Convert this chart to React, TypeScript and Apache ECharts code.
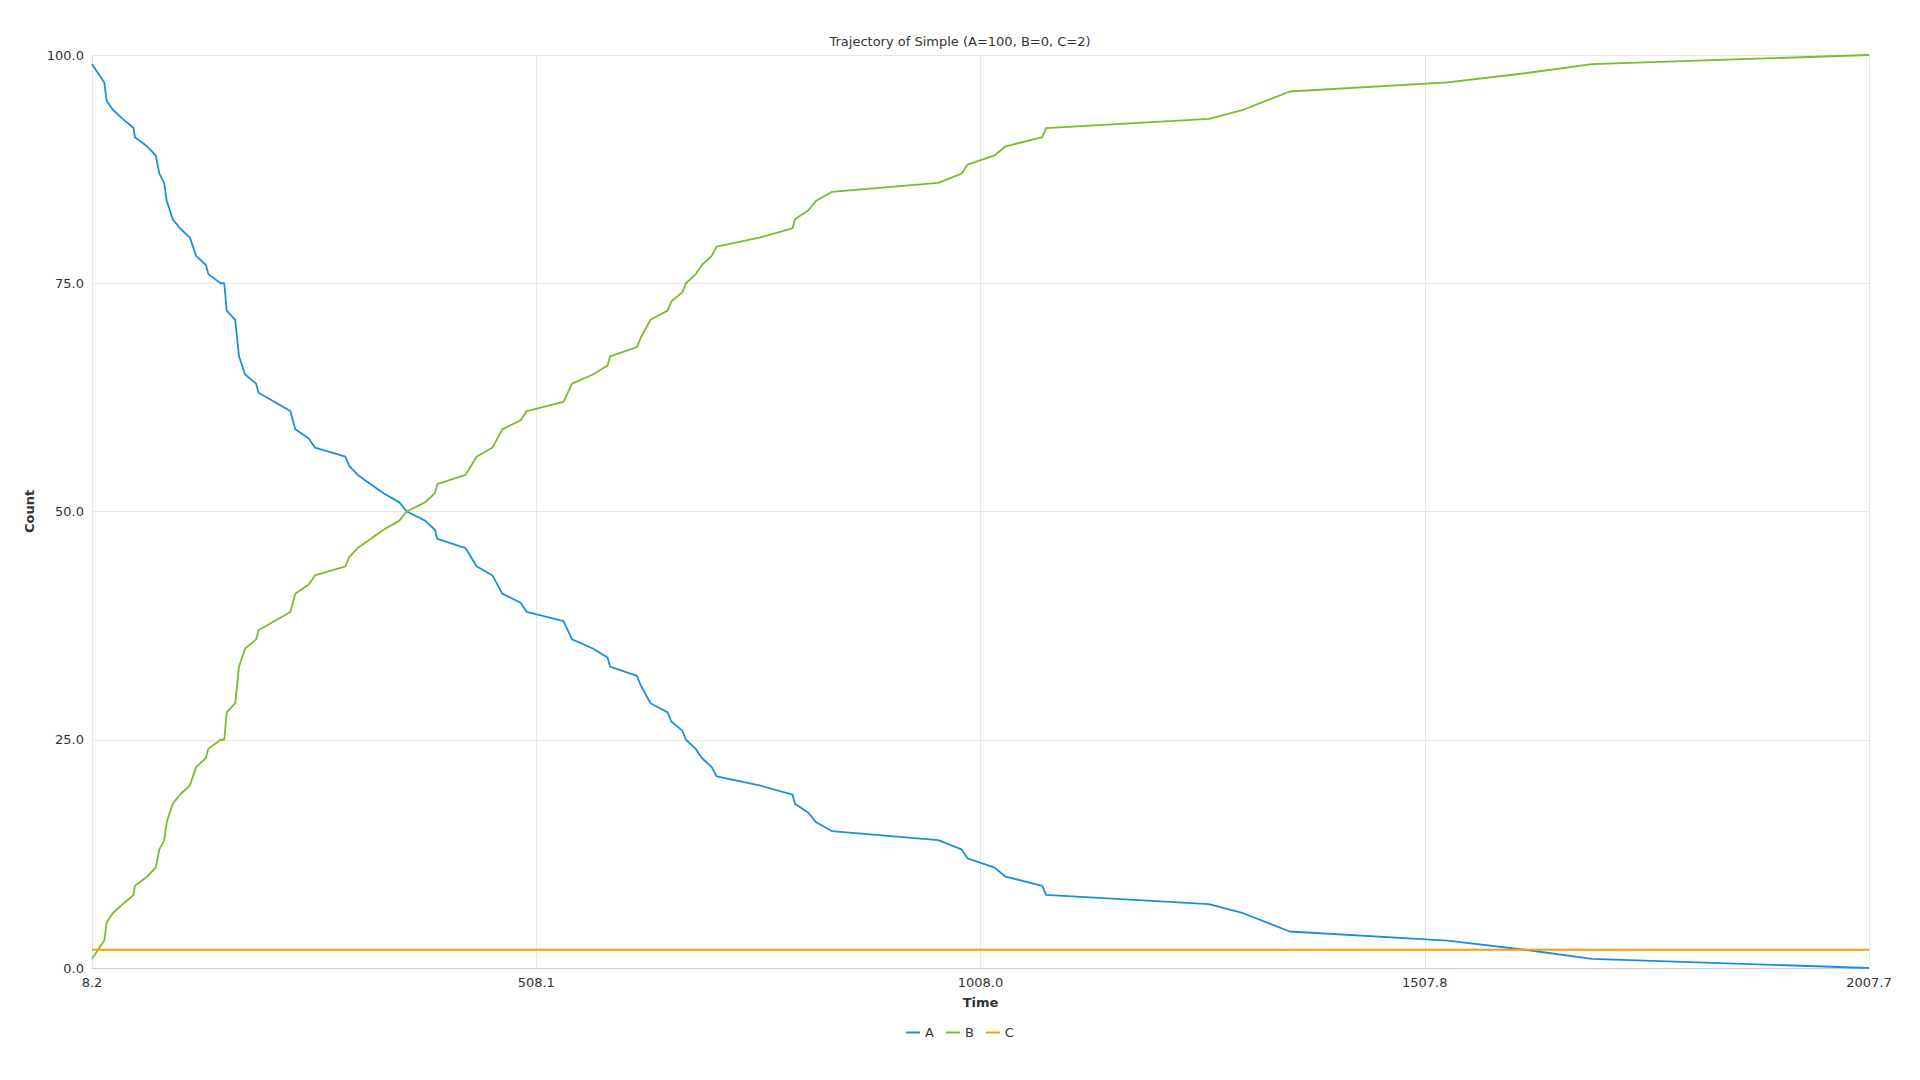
import { useEffect, useRef } from 'react'
import * as echarts from 'echarts'

const TIMES = [
  8.2, 15.1, 22, 24.7, 31.6, 42.7, 55, 56.4, 70.2, 79.9, 84, 89.5, 92.3, 99.2, 107.4, 118.4,
  125.3, 136.4, 139.1, 152.9, 157, 159.8, 169.4, 173.6, 180.5, 192.9, 195.6, 231.4, 236.9,
  252.1, 259, 293.4, 297.6, 307.2, 336.2, 354.1, 362.3, 383, 394, 396.8, 428.5, 440.9, 458.8,
  469.8, 490.5, 497.4, 538.7, 548.4, 571.8, 588.3, 591.1, 621.4, 625.5, 636.6, 655.9, 660,
  672.4, 676.5, 687.6, 694.4, 705.5, 711, 759.2, 796.4, 799.2, 814.3, 822.6, 840.5, 960.4,
  986.6, 993.5, 1023.8, 1036.2, 1077.5, 1081.7, 1265, 1303.5, 1355.9, 1533.6, 1620.5, 1696.2,
  2007.7,
]

const A_VALUES = [
  99, 98, 97, 95, 94, 93, 92, 91, 90, 89, 87, 86, 84, 82, 81, 80, 78, 77, 76, 75, 75, 72, 71,
  67, 65, 64, 63, 61, 59, 58, 57, 56, 55, 54, 52, 51, 50, 49, 48, 47, 46, 44, 43, 41, 40, 39,
  38, 36, 35, 34, 33, 32, 31, 29, 28, 27, 26, 25, 24, 23, 22, 21, 20, 19, 18, 17, 16, 15, 14,
  13, 12, 11, 10, 9, 8, 7, 6, 4, 3, 2, 1, 0,
]

const B_VALUES = [
  1, 2, 3, 5, 6, 7, 8, 9, 10, 11, 13, 14, 16, 18, 19, 20, 22, 23, 24, 25, 25, 28, 29, 33, 35,
  36, 37, 39, 41, 42, 43, 44, 45, 46, 48, 49, 50, 51, 52, 53, 54, 56, 57, 59, 60, 61, 62, 64,
  65, 66, 67, 68, 69, 71, 72, 73, 74, 75, 76, 77, 78, 79, 80, 81, 82, 83, 84, 85, 86, 87, 88,
  89, 90, 91, 92, 93, 94, 96, 97, 98, 99, 100,
]

const C_VALUE = 2

const FONT = "'DejaVu Sans', sans-serif"

export default function App() {
  const chartRef = useRef<HTMLDivElement>(null)

  useEffect(() => {
    if (!chartRef.current) return
    const chart = echarts.init(chartRef.current, undefined, { renderer: 'svg' })

    const toPairs = (vals: number[]) => TIMES.map((t, i) => [t, vals[i]])

    chart.setOption({
      animation: false,
      backgroundColor: '#ffffff',
      title: {
        text: 'Trajectory of Simple (A=100, B=0, C=2)',
        left: 'center',
        top: 30,
        textStyle: { fontSize: 13, fontWeight: 'normal', color: '#333', fontFamily: FONT },
      },
      legend: {
        bottom: 36,
        left: 'center',
        itemWidth: 14,
        itemHeight: 2,
        icon: 'rect',
        itemGap: 12,
        textStyle: { fontSize: 13, color: '#333', fontFamily: FONT },
        data: ['A', 'B', 'C'],
      },
      grid: { left: 92, right: 51, top: 55, bottom: 112 },
      xAxis: {
        type: 'value',
        name: 'Time',
        nameLocation: 'middle',
        nameGap: 28,
        nameTextStyle: { fontSize: 13, fontWeight: 'bold', color: '#333', fontFamily: FONT },
        min: 8.2,
        max: 2007.7,
        interval: 499.875,
        axisLabel: {
          fontSize: 13,
          color: '#333',
          fontFamily: FONT,
          formatter: (v: number) => v.toFixed(1),
        },
        axisLine: { lineStyle: { color: '#ccc' } },
        axisTick: { show: false },
        splitLine: { lineStyle: { color: '#e6e6e6' } },
      },
      yAxis: {
        type: 'value',
        name: 'Count',
        nameLocation: 'middle',
        nameGap: 44,
        nameTextStyle: { fontSize: 13, fontWeight: 'bold', color: '#333', fontFamily: FONT },
        min: 0,
        max: 100,
        interval: 25,
        axisLabel: {
          fontSize: 13,
          color: '#333',
          fontFamily: FONT,
          formatter: (v: number) => v.toFixed(1),
        },
        axisLine: { show: false },
        axisTick: { show: false },
        splitLine: { lineStyle: { color: '#e6e6e6' } },
      },
      series: [
        {
          name: 'A',
          type: 'line',
          showSymbol: false,
          data: toPairs(A_VALUES),
          lineStyle: { color: '#1a90d8', width: 1.8 },
          itemStyle: { color: '#1a90d8' },
        },
        {
          name: 'B',
          type: 'line',
          showSymbol: false,
          data: toPairs(B_VALUES),
          lineStyle: { color: '#7cbb2a', width: 1.8 },
          itemStyle: { color: '#7cbb2a' },
        },
        {
          name: 'C',
          type: 'line',
          showSymbol: false,
          data: [
            [8.2, C_VALUE],
            [2007.7, C_VALUE],
          ],
          lineStyle: { color: '#f5a000', width: 2 },
          itemStyle: { color: '#f5a000' },
        },
      ],
    })

    return () => chart.dispose()
  }, [])

  return (
    <div
      ref={chartRef}
      style={{ position: 'fixed', left: 0, top: 0, width: '1920px', height: '1080px' }}
    />
  )
}
